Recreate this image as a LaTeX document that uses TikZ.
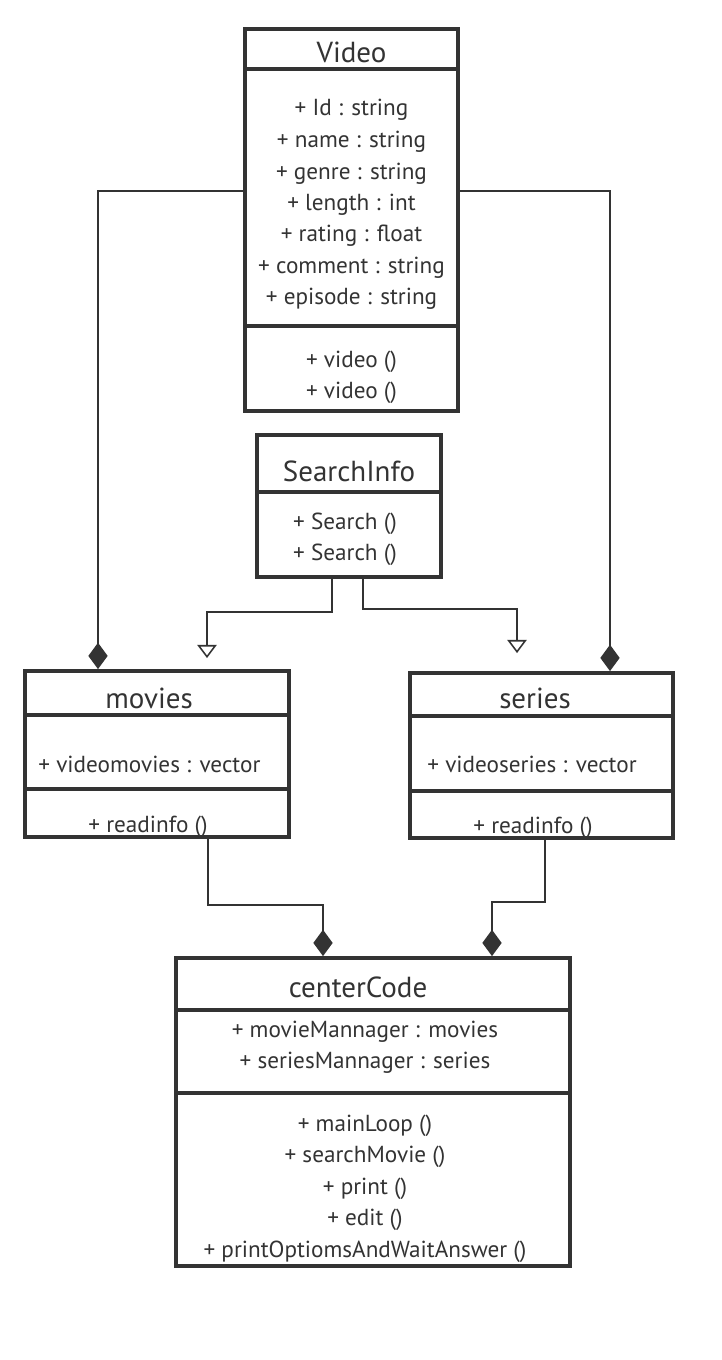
\documentclass[tikz,border=0pt]{standalone}
\usepackage{fontspec}
\setmainfont{PT Sans}
\usetikzlibrary{arrows.meta,calc}
\definecolor{ink}{HTML}{333333}

\tikzset{
  classbox/.style={draw=ink, line width=2.2pt, inner sep=0pt},
  divider/.style={draw=ink, line width=2.2pt},
  link/.style={draw=ink, line width=0.9pt},
  txt/.style={text=ink, font=\fontsize{13.2}{15}\selectfont, inner sep=0pt, yshift=-0.04cm},
  title/.style={text=ink, font=\fontsize{16.5}{19}\selectfont, inner sep=0pt, yshift=-0.04cm},
  comp/.style={link, -{Diamond[length=15pt,width=11pt]}},
  inherit/.style={link, -{Triangle[open,length=7.5pt,width=11pt,fill=white]}},
}

\begin{document}
\begin{tikzpicture}[x=0.02cm, y=-0.02cm]
	\useasboundingbox (0,0) rectangle (722,1360);

	% class boxes
	\node[classbox, minimum width=4.26cm, minimum height=7.64cm] (video) at (351.5,220) {};
	\node[classbox, minimum width=3.68cm, minimum height=2.84cm] (search) at (349,506) {};
	\node[classbox, minimum width=5.28cm, minimum height=3.32cm] (movies) at (157,754) {};
	\node[classbox, minimum width=5.26cm, minimum height=3.30cm] (series) at (541.5,755.5) {};
	\node[classbox, minimum width=7.88cm, minimum height=6.16cm] (center) at (373,1112) {};

	% compartments
	\draw[divider] ($(video.north west)+(0,42)$) -- ($(video.north east)+(0,42)$);
	\draw[divider] ($(video.north west)+(0,299)$) -- ($(video.north east)+(0,299)$);
	\draw[divider] ($(search.north west)+(0,59)$) -- ($(search.north east)+(0,59)$);
	\draw[divider] ($(movies.north west)+(0,46)$) -- ($(movies.north east)+(0,46)$);
	\draw[divider] ($(movies.north west)+(0,120)$) -- ($(movies.north east)+(0,120)$);
	\draw[divider] ($(series.north west)+(0,45)$) -- ($(series.north east)+(0,45)$);
	\draw[divider] ($(series.north west)+(0,120)$) -- ($(series.north east)+(0,120)$);
	\draw[divider] ($(center.north west)+(0,54)$) -- ($(center.north east)+(0,54)$);
	\draw[divider] ($(center.north west)+(0,137)$) -- ($(center.north east)+(0,137)$);

	% Video
	\node[title] (vname) at (351.5,50) {Video};
	\node[txt] (va1) at (351.5,108) {+ Id : string};
	\node[txt] (va2) at (351.5,140) {+ name : string};
	\node[txt] (va3) at (351.5,172) {+ genre : string};
	\node[txt] (va4) at (351.5,203) {+ length : int};
	\node[txt] (va5) at (351.5,234) {+ rating : float};
	\node[txt] (va6) at (351.5,266) {+ comment : string};
	\node[txt] (va7) at (351.5,297) {+ episode : string};
	\node[txt] (vm1) at (351.5,360) {+ video ()};
	\node[txt] (vm2) at (351.5,391) {+ video ()};

	% SearchInfo
	\node[title] (sname) at (349,469) {SearchInfo};
	\node[txt] (sm1) at (345,522) {+ Search ()};
	\node[txt] (sm2) at (345,553) {+ Search ()};

	% movies
	\node[title] (mname) at (149,696) {movies};
	\node[txt, anchor=west] (ma1) at (38,762) {+ videomovies : vector};
	\node[txt] (mm1) at (148,825) {+ readinfo ()};

	% series
	\node[title] (rname) at (535,696) {series};
	\node[txt, anchor=west] (ra1) at (427,762) {+ videoseries : vector};
	\node[txt] (rm1) at (533,826) {+ readinfo ()};

	% centerCode
	\node[title] (cname) at (358,985) {centerCode};
	\node[txt] (ca1) at (365,1030) {+ movieMannager : movies};
	\node[txt] (ca2) at (365,1061) {+ seriesMannager : series};
	\node[txt] (cm1) at (365,1124) {+ mainLoop ()};
	\node[txt] (cm2) at (365,1155) {+ searchMovie ()};
	\node[txt] (cm3) at (365,1187) {+ print ()};
	\node[txt] (cm4) at (365,1218) {+ edit ()};
	\node[txt] (cm5) at (365,1250) {+ printOptiomsAndWaitAnswer ()};

	% connectors
	\draw[comp] ($(video.west)+(0,-29)$) -| ($(movies.north)+(-59,0)$);
	\draw[comp] ($(video.east)+(0,-29)$) -| ($(series.north)+(68.5,0)$);
	\draw[inherit, shorten >=0.22cm] ($(search.south)+(-17,0)$) -- ++(0,33) -| ($(movies.north)+(50,0)$);
	\draw[inherit, shorten >=0.36cm] ($(search.south)+(14,0)$) -- ++(0,30) -| ($(series.north)+(-24.5,0)$);
	\draw[comp] ($(movies.south)+(51,0)$) -- ++(0,66) -| ($(center.north)+(-50,0)$);
	\draw[comp] ($(series.south)+(3.5,0)$) -- ++(0,62) -| ($(center.north)+(119,0)$);
\end{tikzpicture}
\end{document}
